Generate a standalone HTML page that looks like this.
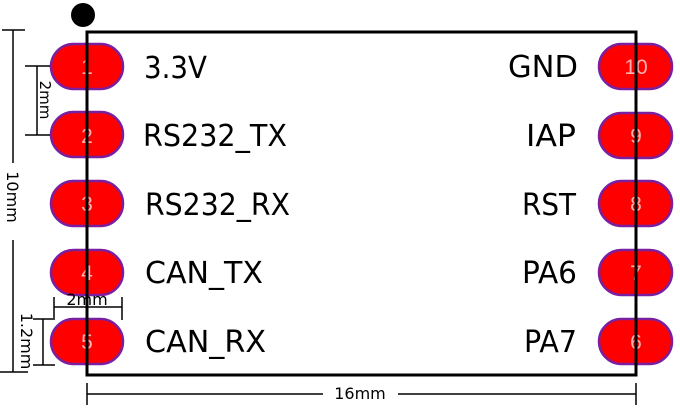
<!DOCTYPE html>
<html><head><meta charset="utf-8"><style>
html,body{margin:0;padding:0;background:#fff;}
svg{display:block;}
</style></head><body>
<svg width="680" height="408" xmlns="http://www.w3.org/2000/svg" font-family="'DejaVu Sans', 'Liberation Sans', sans-serif">
<rect width="680" height="408" fill="#fff"/>
<g fill="#ff0000" stroke="#7a1fa0" stroke-width="2.5">
<rect x="51" y="44" width="72" height="45" rx="22.5"/>
<rect x="51" y="112" width="72" height="45" rx="22.5"/>
<rect x="51" y="181" width="72" height="45" rx="22.5"/>
<rect x="51" y="250" width="72" height="45" rx="22.5"/>
<rect x="51" y="319" width="72" height="45" rx="22.5"/>
<rect x="599" y="44" width="73" height="45" rx="22.5"/>
<rect x="599" y="113" width="73" height="45" rx="22.5"/>
<rect x="599" y="181" width="73" height="45" rx="22.5"/>
<rect x="599" y="250" width="73" height="45" rx="22.5"/>
<rect x="599" y="319" width="73" height="45" rx="22.5"/>
</g>
<g fill="#ffb0b0" font-size="21" text-anchor="middle" font-family="'Liberation Sans', sans-serif">
<text x="87" y="74">1</text><text x="87" y="143">2</text><text x="87" y="211">3</text><text x="87" y="280">4</text><text x="87" y="349">5</text>
<text x="636" y="74">10</text><text x="636" y="143">9</text><text x="636" y="211">8</text><text x="636" y="280">7</text><text x="636" y="349">6</text>
</g>
<rect x="87" y="32" width="549" height="343" fill="none" stroke="#000" stroke-width="3"/>
<circle cx="83" cy="15" r="12" fill="#000"/>
<g font-size="30" fill="#000">
<text x="144" y="78" textLength="63" lengthAdjust="spacingAndGlyphs">3.3V</text>
<text x="143" y="146" textLength="144" lengthAdjust="spacingAndGlyphs">RS232_TX</text>
<text x="145" y="215" textLength="145" lengthAdjust="spacingAndGlyphs">RS232_RX</text>
<text x="145" y="283" textLength="118" lengthAdjust="spacingAndGlyphs">CAN_TX</text>
<text x="145" y="352" textLength="121" lengthAdjust="spacingAndGlyphs">CAN_RX</text>
<text x="508" y="77" textLength="70" lengthAdjust="spacingAndGlyphs">GND</text>
<text x="526" y="146" textLength="50" lengthAdjust="spacingAndGlyphs">IAP</text>
<text x="522" y="215" textLength="54" lengthAdjust="spacingAndGlyphs">RST</text>
<text x="522" y="283" textLength="55" lengthAdjust="spacingAndGlyphs">PA6</text>
<text x="524" y="352" textLength="53" lengthAdjust="spacingAndGlyphs">PA7</text>
</g>
<g stroke="#000" stroke-width="1.5" fill="none">
<line x1="13" y1="30" x2="13" y2="163"/><line x1="13" y1="240" x2="13" y2="372"/>
<line x1="2" y1="30" x2="25" y2="30"/><line x1="0" y1="372" x2="28" y2="372"/>
<line x1="37" y1="66" x2="37" y2="135"/><line x1="25" y1="66" x2="50" y2="66"/><line x1="25" y1="135" x2="50" y2="135"/>
<line x1="43" y1="319" x2="43" y2="365"/><line x1="33" y1="319" x2="53" y2="319"/><line x1="33" y1="365" x2="55" y2="365"/>
<line x1="54" y1="307" x2="122" y2="307"/><line x1="54" y1="297" x2="54" y2="320"/><line x1="122" y1="297" x2="122" y2="320"/>
<line x1="87" y1="394" x2="323" y2="394"/><line x1="398" y1="394" x2="636" y2="394"/>
<line x1="87" y1="383" x2="87" y2="405"/><line x1="636" y1="383" x2="636" y2="405"/>
</g>
<g font-size="16" fill="#000">
<text x="360" y="399" text-anchor="middle">16mm</text>
<text x="87" y="305" text-anchor="middle">2mm</text>
<text transform="translate(7,197) rotate(90)" text-anchor="middle">10mm</text>
<text transform="translate(40,100) rotate(90)" text-anchor="middle" font-size="15">2mm</text>
<text transform="translate(21,341) rotate(90)" text-anchor="middle">1.2mm</text>
</g>
</svg>
</body></html>
